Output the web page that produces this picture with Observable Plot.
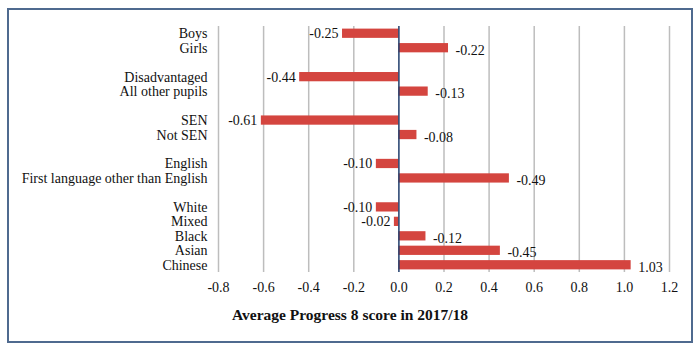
<!DOCTYPE html>
<html>
<head>
<meta charset="utf-8">
<script src="https://cdn.jsdelivr.net/npm/d3@7"></script>
<script src="https://cdn.jsdelivr.net/npm/@observablehq/plot@0.6"></script>
<style>
  html, body { margin: 0; padding: 0; background: #fff; }
  #wrap { position: relative; width: 700px; height: 351px; overflow: hidden; }
  #frame { position: absolute; left: 7px; top: 8px; width: 682px; height: 331px; border: 2px solid #4f6a8f; pointer-events: none; }
  #xlabel { position: absolute; left: 0; width: 700px; top: 306px; text-align: center;
    font-family: "Liberation Serif", "Times New Roman", serif; font-weight: bold; font-size: 15.5px; color: #111; }
</style>
</head>
<body>
<div id="wrap">
  <div id="chart"></div>
  <div id="frame"></div>
  <div id="xlabel">Average Progress 8 score in 2017/18</div>
</div>
<script>
// Rows (null = blank spacer row between groups)
const categories = ["Boys", "Girls", null, "Disadvantaged", "All other pupils", null, "SEN", "Not SEN", null,
  "English", "First language other than English", null, "White", "Mixed", "Black", "Asian", "Chinese"];
const values = [-0.25, 0.22, -0.44, 0.13, -0.61, 0.08, -0.10, 0.49, -0.10, -0.02, 0.12, 0.45, 1.03];
const barLabels = ["-0.25", "-0.22", "-0.44", "-0.13", "-0.61", "-0.08", "-0.10", "-0.49", "-0.10", "-0.02", "-0.12", "-0.45", "1.03"];
const xTicks = [-0.8, -0.6, -0.4, -0.2, 0.0, 0.2, 0.4, 0.6, 0.8, 1.0, 1.2];

const rowIndex = d3.range(categories.length);
const data = [];
let k = 0;
categories.forEach((c, i) => {
  if (c !== null) { data.push({row: i, name: c, value: values[k], label: barLabels[k]}); k++; }
});

const chart = Plot.plot({
  width: 700,
  height: 351,
  marginLeft: 218,
  marginRight: 31,
  marginTop: 26,
  marginBottom: 79,
  style: {fontFamily: "'Liberation Serif', 'Times New Roman', serif", fontSize: "14px", color: "#111", background: "transparent"},
  x: {domain: [-0.8, 1.2], ticks: xTicks, tickFormat: d => d.toFixed(1), tickSize: 0, tickPadding: 10, label: null},
  y: {domain: rowIndex, paddingInner: 0.36, paddingOuter: 0.18, align: 0.5, round: false,
      tickFormat: i => categories[i] ?? "", tickSize: 0, tickPadding: 11, label: null},
  marks: [
    Plot.ruleX(xTicks.filter(t => t !== 0), {stroke: "#bdbdbd", strokeWidth: 1.5}),
    Plot.barX(data, {x1: 0, x2: "value", y: "row", fill: "#d4453f"}),
    Plot.ruleX([0], {stroke: "#1f3d6b", strokeWidth: 1.5}),
    Plot.text(data.filter(d => d.value < 0), {x: "value", y: "row", text: "label", textAnchor: "end", dx: -4, fontSize: 14, fill: "#111"}),
    Plot.text(data.filter(d => d.value >= 0), {x: "value", y: "row", text: "label", textAnchor: "start", dx: 7, dy: 2, fontSize: 14, fill: "#111"}),
    Plot.axisX({ticks: xTicks, tickFormat: d => d.toFixed(1), tickSize: 0, tickPadding: 10, fontSize: 14}),
    Plot.axisY({tickFormat: i => categories[i] ?? "", tickSize: 0, tickPadding: 11, fontSize: 14})
  ]
});
document.getElementById("chart").appendChild(chart);
</script>
</body>
</html>
